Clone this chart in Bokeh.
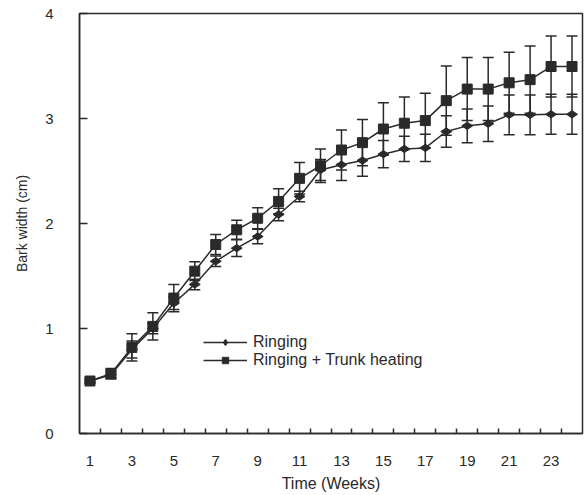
import numpy as np
from bokeh.plotting import figure
from bokeh.models import (ColumnDataSource, Whisker, TeeHead, FixedTicker, Range1d,
                          Legend, LegendItem)
from bokeh.embed import file_html
from bokeh.resources import INLINE

weeks = list(range(1, 25))
ringing = [0.50, 0.56, 0.80, 1.00, 1.24, 1.42, 1.64, 1.765, 1.876, 2.086, 2.257, 2.51,
           2.56, 2.60, 2.66, 2.71, 2.72, 2.876, 2.93, 2.95, 3.035, 3.035, 3.04, 3.04]
ringing_err = [0.02, 0.03, 0.08, 0.05, 0.06, 0.05, 0.05, 0.08, 0.07, 0.06, 0.05, 0.10,
               0.15, 0.15, 0.13, 0.12, 0.13, 0.15, 0.16, 0.17, 0.19, 0.19, 0.19, 0.19]
heating = [0.50, 0.57, 0.82, 1.02, 1.29, 1.546, 1.80, 1.94, 2.05, 2.21, 2.43, 2.55,
           2.70, 2.77, 2.90, 2.955, 2.98, 3.17, 3.28, 3.28, 3.34, 3.37, 3.495, 3.495]
heating_err = [0.02, 0.05, 0.13, 0.13, 0.13, 0.09, 0.095, 0.09, 0.10, 0.12, 0.15, 0.16,
               0.19, 0.22, 0.25, 0.25, 0.26, 0.33, 0.30, 0.30, 0.29, 0.32, 0.29, 0.29]
x_tick_labels = [1, 3, 5, 7, 9, 11, 13, 15, 17, 19, 21, 23]
y_ticks = [0, 1, 2, 3, 4]

FONT = "Liberation Sans"
INK = "#2a2a2a"

p = figure(width=586, height=495, output_backend="svg", toolbar_location=None,
           x_range=Range1d(0.5, 24.5), y_range=Range1d(0, 4),
           min_border_left=79, min_border_top=13, min_border_right=4, min_border_bottom=62)
p.grid.visible = False
p.outline_line_color = INK
p.outline_line_width = 1.5
p.background_fill_color = "white"
p.border_fill_color = "white"

src_r = ColumnDataSource(dict(x=weeks, y=ringing,
                              lo=[a - b for a, b in zip(ringing, ringing_err)],
                              hi=[a + b for a, b in zip(ringing, ringing_err)]))
src_h = ColumnDataSource(dict(x=weeks, y=heating,
                              lo=[a - b for a, b in zip(heating, heating_err)],
                              hi=[a + b for a, b in zip(heating, heating_err)]))

for src in (src_r, src_h):
    w = Whisker(source=src, base="x", upper="hi", lower="lo", dimension="height",
                line_color=INK, line_width=1.5,
                upper_head=TeeHead(size=11, line_color=INK, line_width=1.5),
                lower_head=TeeHead(size=11, line_color=INK, line_width=1.5))
    p.add_layout(w)

l_r = p.line("x", "y", source=src_r, line_color=INK, line_width=1.5)
m_r = p.scatter("x", "y", source=src_r, marker="diamond", size=11, angle=np.pi / 2,
                fill_color=INK, line_color=INK)
l_h = p.line("x", "y", source=src_h, line_color=INK, line_width=1.5)
m_h = p.scatter("x", "y", source=src_h, marker="square", size=10,
                fill_color=INK, line_color=INK)

legend = Legend(items=[LegendItem(label="Ringing", renderers=[l_r, m_r]),
                       LegendItem(label="Ringing + Trunk heating", renderers=[l_h, m_h])],
                location=(124, 64), padding=0, margin=0, spacing=0,
                glyph_width=44, glyph_height=16, label_standoff=6, label_height=16,
                border_line_color=None, background_fill_alpha=0,
                label_text_font=FONT, label_text_font_size="16px", label_text_color=INK)
p.add_layout(legend)

xa = p.xaxis[0]
xa.ticker = FixedTicker(ticks=x_tick_labels, minor_ticks=[k + 0.5 for k in range(1, 24)])
xa.major_tick_in = 0
xa.major_tick_out = 0
xa.minor_tick_in = 5
xa.minor_tick_out = 0
xa.minor_tick_line_color = INK
xa.minor_tick_line_width = 1.5
xa.axis_line_color = INK
xa.axis_line_width = 1.5
xa.major_label_standoff = 22
xa.major_label_text_font = FONT
xa.major_label_text_font_size = "15px"
xa.major_label_text_color = INK
xa.axis_label = "Time (Weeks)"
xa.axis_label_text_font = FONT
xa.axis_label_text_font_size = "16px"
xa.axis_label_text_font_style = "normal"
xa.axis_label_text_color = INK
xa.axis_label_standoff = 6

ya = p.yaxis[0]
ya.ticker = FixedTicker(ticks=y_ticks)
ya.major_tick_in = 8
ya.major_tick_out = 0
ya.major_tick_line_color = INK
ya.major_tick_line_width = 1.5
ya.minor_tick_line_color = None
ya.axis_line_color = INK
ya.axis_line_width = 1.5
ya.major_label_standoff = 26
ya.major_label_text_font = FONT
ya.major_label_text_font_size = "15px"
ya.major_label_text_color = INK
ya.axis_label = "Bark width (cm)"
ya.axis_label_text_font = FONT
ya.axis_label_text_font_size = "14px"
ya.axis_label_text_font_style = "normal"
ya.axis_label_text_color = INK
ya.axis_label_standoff = 12

open("out.html", "w").write(file_html(p, INLINE))
